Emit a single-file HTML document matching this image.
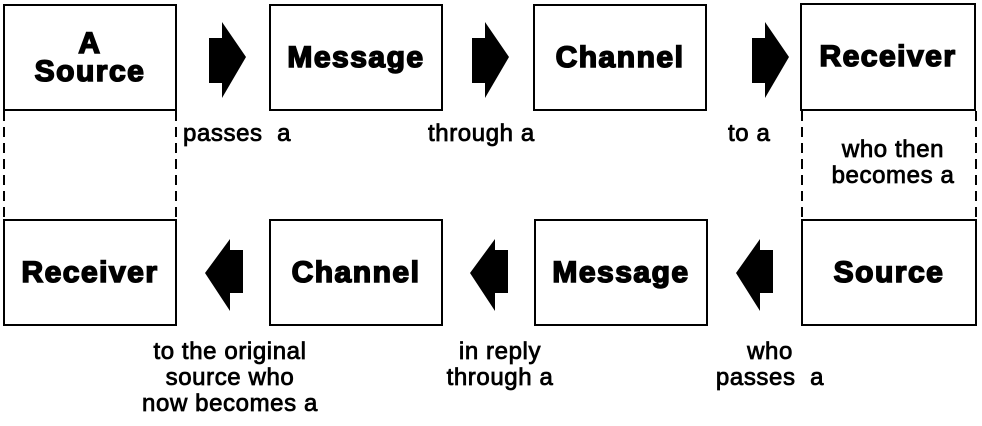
<!DOCTYPE html>
<html><head><style>
body{margin:0;background:#fff;width:982px;height:426px;position:relative;overflow:hidden;font-family:"Liberation Sans",sans-serif}
.b{position:absolute;border:2px solid #000;box-sizing:border-box;display:flex;align-items:center;justify-content:center;text-align:center;font-weight:900;font-size:30px;line-height:28px;letter-spacing:1.5px;-webkit-text-stroke:1.6px #000}
.t{position:absolute;font-size:24px;line-height:26px;text-align:center;letter-spacing:0.6px;-webkit-text-stroke:0.8px #000;white-space:nowrap}
</style></head><body>
<div class="b" style="left:3px;top:4px;width:174px;height:107px">A<br>Source</div>
<div class="b" style="left:269px;top:4px;width:174px;height:107px">Message</div>
<div class="b" style="left:533px;top:4px;width:174px;height:107px">Channel</div>
<div class="b" style="left:800px;top:3px;width:176px;height:108px">Receiver</div>
<div class="b" style="left:3px;top:219px;width:174px;height:107px">Receiver</div>
<div class="b" style="left:269px;top:219px;width:174px;height:107px">Channel</div>
<div class="b" style="left:534px;top:219px;width:174px;height:107px">Message</div>
<div class="b" style="left:801px;top:219px;width:176px;height:107px">Source</div>
<svg width="982" height="426" style="position:absolute;left:0;top:0">
<g stroke="#000" stroke-width="2" stroke-dasharray="10,6" fill="none">
<line x1="4" y1="111" x2="4" y2="219"/><line x1="176" y1="111" x2="176" y2="219"/>
<line x1="802" y1="111" x2="802" y2="219"/><line x1="976" y1="111" x2="976" y2="219"/>
</g>
<g fill="#000">
<polygon points="209,38 222,38 222,22 246,57 222,98 222,83 209,83"/>
<polygon points="472,38 485,38 485,22 509,57 485,98 485,83 472,83"/>
<polygon points="752,38 765,38 765,22 789,57 765,98 765,83 752,83"/>
<polygon points="243,250 230,250 230,239 205,273 230,311 230,293 243,293"/>
<polygon points="508,250 495,250 495,239 470,273 495,311 495,293 508,293"/>
<polygon points="773,250 760,250 760,239 736,273 760,311 760,293 773,293"/>
</g>
</svg>
<div class="t" style="left:183px;top:121px">passes&nbsp; a</div>
<div class="t" style="left:428px;top:121px">through a</div>
<div class="t" style="left:728px;top:121px">to a</div>
<div class="t" style="left:813px;top:137px;width:160px">who then<br>becomes a</div>
<div class="t" style="left:110px;top:339px;width:240px">to the original<br>source who<br>now becomes a</div>
<div class="t" style="left:415px;top:339px;width:170px">in reply<br>through a</div>
<div class="t" style="left:685px;top:339px;width:170px">who<br>passes&nbsp; a</div>
</body></html>
